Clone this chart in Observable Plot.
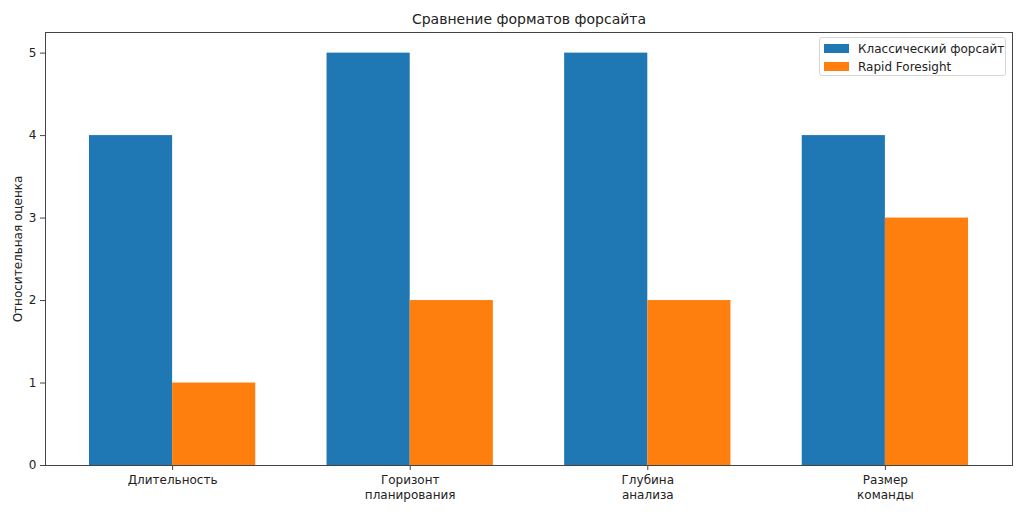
<!DOCTYPE html>
<html>
<head>
<meta charset="utf-8">
<script src="https://cdn.jsdelivr.net/npm/d3@7"></script>
<script src="https://cdn.jsdelivr.net/npm/@observablehq/plot@0.6"></script>
<style>
  html, body { margin: 0; padding: 0; background: #fff; }
  #wrap { position: relative; width: 1024px; height: 512px; font-family: "DejaVu Sans", sans-serif; }
  #legend { position: absolute; left: 819px; top: 37px; width: 187px; height: 39px; border: 1px solid #d6d6d6; border-radius: 3px; background: rgba(255,255,255,0.85); box-sizing: border-box; }
  .item { position: absolute; left: 4px; height: 16px; font-size: 12px; color: #222; white-space: nowrap; }
  .sw { position: absolute; left: 0; top: 3px; width: 25px; height: 9px; }
  .lab { position: absolute; left: 34px; top: 0; line-height: 16px; }
</style>
</head>
<body>
<div id="wrap"><div id="legend"></div></div>
<script>
const categories = ["Длительность", "Горизонт\nпланирования", "Глубина\nанализа", "Размер\nкоманды"];
const seriesNames = ["Классический форсайт", "Rapid Foresight"];
const classic = [4, 5, 5, 4];
const rapid = [1, 2, 2, 3];
const colors = ["#1f77b4", "#ff7f0e"];
const yTicks = [0, 1, 2, 3, 4, 5];
const title = "Сравнение форматов форсайта";
const yLabel = "Относительная оценка";

const barWidth = 0.35;
const rows = [];
categories.forEach((c, i) => {
  rows.push({i, series: seriesNames[0], value: classic[i], x1: i - barWidth, x2: i});
  rows.push({i, series: seriesNames[1], value: rapid[i], x1: i, x2: i + barWidth});
});

const chart = Plot.plot({
  width: 1024,
  height: 512,
  marginLeft: 45,
  marginRight: 12,
  marginTop: 32,
  marginBottom: 47,
  style: {fontFamily: "DejaVu Sans, sans-serif", fontSize: "12px", color: "#222", background: "#fff"},
  x: {domain: [-0.535, 3 + 0.535]},
  y: {domain: [0, 5.25]},
  color: {domain: seriesNames, range: colors},
  marks: [
    Plot.rectY(rows, {x1: "x1", x2: "x2", y: "value", fill: "series"}),
    Plot.frame({stroke: "#444", strokeWidth: 1}),
    Plot.axisY({ticks: yTicks, tickFormat: d => String(d), tickSize: 5, tickPadding: 4, label: null, stroke: "#444", fill: "#222", fontSize: 12}),
    Plot.axisX({ticks: categories.map((c, i) => i), tickFormat: i => categories[i], tickSize: 5, tickPadding: 4, label: null, stroke: "#444", fill: "#222", fontSize: 12, lineHeight: 1.17}),
    Plot.text([title], {frameAnchor: "top", dy: -9, lineAnchor: "bottom", fontSize: 14, fill: "#222"}),
    Plot.text([yLabel], {frameAnchor: "left", dx: -27, rotate: -90, textAnchor: "middle", lineAnchor: "middle", fontSize: 12, fill: "#222"})
  ]
});
document.getElementById("wrap").prepend(chart);

const legend = document.getElementById("legend");
seriesNames.forEach((s, k) => {
  const it = document.createElement("div");
  it.className = "item";
  it.style.top = (3 + k * 18) + "px";
  const sw = document.createElement("div");
  sw.className = "sw";
  sw.style.background = colors[k];
  const lab = document.createElement("div");
  lab.className = "lab";
  lab.textContent = s;
  it.appendChild(sw); it.appendChild(lab);
  legend.appendChild(it);
});
</script>
</body>
</html>
